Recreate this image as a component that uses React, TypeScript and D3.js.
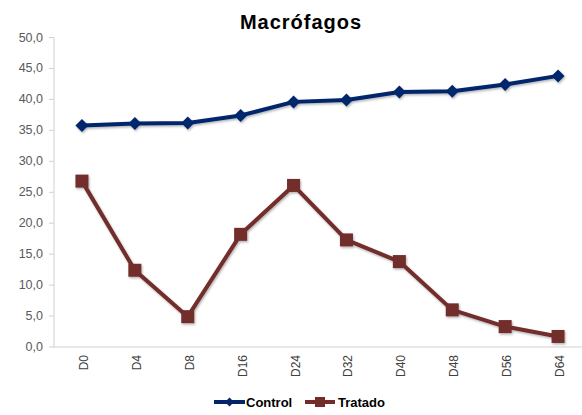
import React from "react";
import * as d3 from "d3";

const categories = ["D0", "D4", "D8", "D16", "D24", "D32", "D40", "D48", "D56", "D64"];
const controlValues = [35.8, 36.1, 36.2, 37.4, 39.6, 39.9, 41.2, 41.3, 42.4, 43.8];
const tratadoValues = [26.8, 12.4, 4.9, 18.2, 26.1, 17.3, 13.8, 6.0, 3.3, 1.7];
const yTicks = [0, 5, 10, 15, 20, 25, 30, 35, 40, 45, 50];
const seriesNames = ["Control", "Tratado"];

const W = 582, H = 415;
const left = 54, bandLeft = 55.5, bandRight = 584.5, top = 37.5, bottom = 347;
const controlColor = "#03256c";
const tratadoColor = "#722d2b";
const font = "Liberation Sans, Arial, sans-serif";

export default function App() {
  const x = d3.scaleBand<string>().domain(categories).range([bandLeft, bandRight]);
  const y = d3.scaleLinear().domain([0, 50]).range([bottom, top]);
  const cx = (c: string) => (x(c) as number) + x.bandwidth() / 2;
  const line = d3.line<number>().x((_, i) => cx(categories[i])).y((d) => y(d));
  const fmt = (v: number) => v.toFixed(1).replace(".", ",");
  const diamond = (px: number, py: number, r: number) =>
    `M${px},${py - r}L${px + r},${py}L${px},${py + r}L${px - r},${py}Z`;

  return (
    <svg width={W} height={H} style={{ position: "absolute", left: 0, top: 0 }}>
      <defs>
        <filter id="sh" x="-20%" y="-20%" width="140%" height="140%">
          <feDropShadow dx="1" dy="1.5" stdDeviation="1.2" floodColor="#000" floodOpacity="0.3" />
        </filter>
      </defs>
      <rect width={W} height={H} fill="#fff" />
      <text x={301} y={29} textAnchor="middle" fontFamily={font} fontWeight="bold" fontSize={20} letterSpacing={1} fill="#000">
        Macrófagos
      </text>
      {/* y axis */}
      <line x1={left} x2={left} y1={top} y2={bottom} stroke="#d0d0d0" />
      {yTicks.map((t) => (
        <g key={t}>
          <line x1={left - 5} x2={left} y1={y(t)} y2={y(t)} stroke="#d0d0d0" />
          <text x={43} y={y(t) + 4} textAnchor="end" fontFamily={font} fontSize={12.5} fill="#595959">
            {fmt(t)}
          </text>
        </g>
      ))}
      {/* x axis */}
      <line x1={left} x2={W} y1={bottom} y2={bottom} stroke="#d0d0d0" />
      {categories.map((c) => (
        <text key={c} transform={`translate(${cx(c) + 6},${355}) rotate(-90)`} textAnchor="end" fontFamily={font} fontSize={12} fill="#404040">
          {c}
        </text>
      ))}
      {/* series */}
      <g filter="url(#sh)">
        <path d={line(controlValues) || ""} fill="none" stroke={controlColor} strokeWidth={4} strokeLinejoin="round" />
        {controlValues.map((v, i) => (
          <path key={i} d={diamond(cx(categories[i]), y(v), 6.5)} fill={controlColor} />
        ))}
        <path d={line(tratadoValues) || ""} fill="none" stroke={tratadoColor} strokeWidth={4} strokeLinejoin="round" />
        {tratadoValues.map((v, i) => (
          <rect key={i} x={cx(categories[i]) - 6.5} y={y(v) - 6.5} width={13} height={13} fill={tratadoColor} />
        ))}
      </g>
      {/* legend */}
      <g fontFamily={font} fontWeight="bold" fontSize={13} fill="#000">
        <line x1={214} x2={245} y1={402} y2={402} stroke={controlColor} strokeWidth={4} />
        <path d={diamond(229.5, 402, 4.5)} fill={controlColor} />
        <text x={246} y={407}>{seriesNames[0]}</text>
        <line x1={305} x2={335} y1={402} y2={402} stroke={tratadoColor} strokeWidth={4} />
        <rect x={315} y={397} width={10} height={10} fill={tratadoColor} />
        <text x={338} y={407}>{seriesNames[1]}</text>
      </g>
    </svg>
  );
}
